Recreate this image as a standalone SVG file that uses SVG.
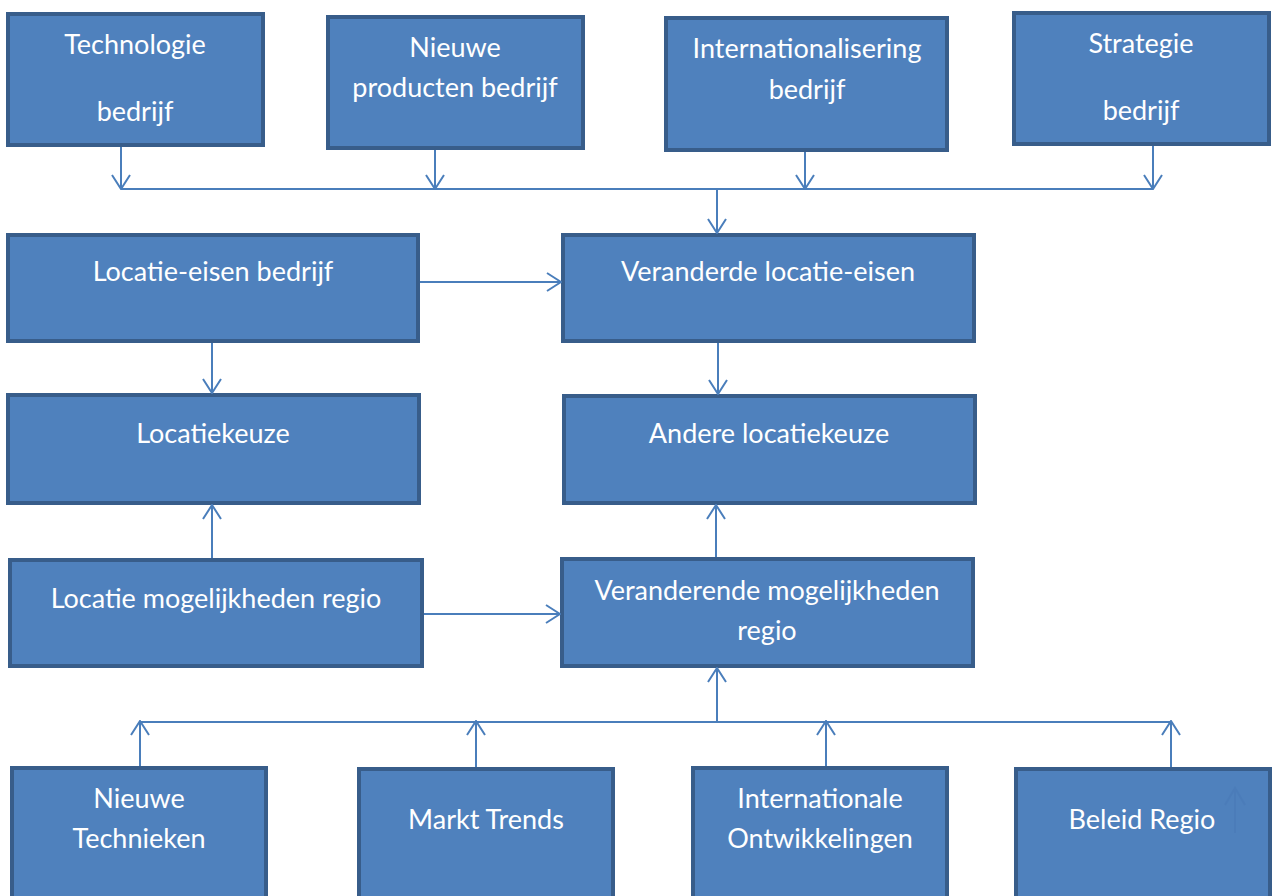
<svg xmlns="http://www.w3.org/2000/svg" width="1273" height="896" viewBox="0 0 1273 896">
  <style>
    .box { fill: #4F81BD; stroke: #385D8A; stroke-width: 4; }
    .lbl { fill: #FFFFFF; font-family: Lato, "Open Sans", "Liberation Sans", sans-serif; font-size: 27px; text-anchor: middle; }
    .wire { fill: none; stroke: #4A7EBB; stroke-width: 2; }
    .arr { marker-end: url(#open); }
  </style>
  <defs>
    <marker id="open" viewBox="0 0 16 20" refX="15" refY="10" markerWidth="16" markerHeight="20" markerUnits="userSpaceOnUse" orient="auto">
      <path d="M1,1 L15,10 L1,19" fill="none" stroke="#4A7EBB" stroke-width="2"/>
    </marker>
  </defs>
  <rect width="1273" height="896" fill="#FFFFFF"/>

  <g id="n-technologie">
    <rect class="box" x="8" y="14" width="255" height="131"/>
    <text class="lbl" x="135" y="54">Technologie</text>
    <text class="lbl" x="135" y="121">bedrijf</text>
  </g>
  <g id="n-nieuwe-producten">
    <rect class="box" x="328" y="17" width="255" height="131"/>
    <text class="lbl" x="455" y="57">Nieuwe</text>
    <text class="lbl" x="455" y="97">producten bedrijf</text>
  </g>
  <g id="n-internationalisering">
    <rect class="box" x="666" y="18" width="281" height="132"/>
    <text class="lbl" x="807" y="58">Internationalisering</text>
    <text class="lbl" x="807" y="99">bedrijf</text>
  </g>
  <g id="n-strategie">
    <rect class="box" x="1014" y="13" width="255" height="131"/>
    <text class="lbl" x="1141" y="53">Strategie</text>
    <text class="lbl" x="1141" y="120">bedrijf</text>
  </g>

  <g id="n-locatie-eisen">
    <rect class="box" x="8" y="235" width="410" height="106"/>
    <text class="lbl" x="213" y="281">Locatie-eisen bedrijf</text>
  </g>
  <g id="n-veranderde-eisen">
    <rect class="box" x="563" y="235" width="411" height="106"/>
    <text class="lbl" x="768" y="281">Veranderde locatie-eisen</text>
  </g>
  <g id="n-locatiekeuze">
    <rect class="box" x="8" y="395" width="411" height="108"/>
    <text class="lbl" x="213" y="443">Locatiekeuze</text>
  </g>
  <g id="n-andere-keuze">
    <rect class="box" x="564" y="396" width="411" height="107"/>
    <text class="lbl" x="769" y="443">Andere locatiekeuze</text>
  </g>
  <g id="n-mogelijkheden">
    <rect class="box" x="10" y="560" width="412" height="106"/>
    <text class="lbl" x="216" y="608">Locatie mogelijkheden regio</text>
  </g>
  <g id="n-veranderende-mogelijkheden">
    <rect class="box" x="562" y="559" width="411" height="107"/>
    <text class="lbl" x="767" y="600">Veranderende mogelijkheden</text>
    <text class="lbl" x="767" y="640">regio</text>
  </g>

  <g id="n-technieken">
    <rect class="box" x="12" y="768" width="254" height="140"/>
    <text class="lbl" x="139" y="808">Nieuwe</text>
    <text class="lbl" x="139" y="848">Technieken</text>
  </g>
  <g id="n-markt">
    <rect class="box" x="359" y="769" width="254" height="140"/>
    <text class="lbl" x="486" y="829">Markt Trends</text>
  </g>
  <g id="n-ontwikkelingen">
    <rect class="box" x="693" y="768" width="254" height="140"/>
    <text class="lbl" x="820" y="808">Internationale</text>
    <text class="lbl" x="820" y="848">Ontwikkelingen</text>
  </g>
  <g id="n-beleid">
    <rect class="box" x="1016" y="769" width="254" height="140"/>
    <text class="lbl" x="1142" y="829">Beleid Regio</text>
    <!-- faint arrow left inside the box -->
    <g stroke="#4A7AB8" stroke-width="2" fill="none" opacity="0.6">
      <line x1="1235" y1="833" x2="1235" y2="788"/>
      <path d="M1225,805 L1235,788 L1245,805"/>
    </g>
  </g>

  <g id="connectors">
    <!-- top inputs merge into one bus -->
    <line class="wire arr" x1="121" y1="147" x2="121" y2="189"/>
    <line class="wire arr" x1="435" y1="150" x2="435" y2="189"/>
    <line class="wire arr" x1="805" y1="152" x2="805" y2="189"/>
    <line class="wire arr" x1="1153" y1="146" x2="1153" y2="189"/>
    <line class="wire" x1="121" y1="189" x2="1153" y2="189"/>
    <line class="wire arr" x1="717" y1="189" x2="717" y2="233"/>

    <line class="wire arr" x1="420" y1="282" x2="561" y2="282"/>
    <line class="wire arr" x1="212" y1="343" x2="212" y2="393"/>
    <line class="wire arr" x1="718" y1="343" x2="718" y2="394"/>

    <line class="wire arr" x1="212" y1="558" x2="212" y2="505"/>
    <line class="wire arr" x1="716" y1="557" x2="716" y2="505"/>
    <line class="wire arr" x1="424" y1="614" x2="560" y2="614"/>

    <!-- bottom inputs rise into one bus -->
    <line class="wire arr" x1="140" y1="766" x2="140" y2="721"/>
    <line class="wire arr" x1="476" y1="767" x2="476" y2="721"/>
    <line class="wire arr" x1="826" y1="766" x2="826" y2="721"/>
    <line class="wire arr" x1="1171" y1="767" x2="1171" y2="721"/>
    <line class="wire" x1="140" y1="722" x2="1171" y2="722"/>
    <line class="wire arr" x1="717" y1="722" x2="717" y2="668"/>
  </g>
</svg>
